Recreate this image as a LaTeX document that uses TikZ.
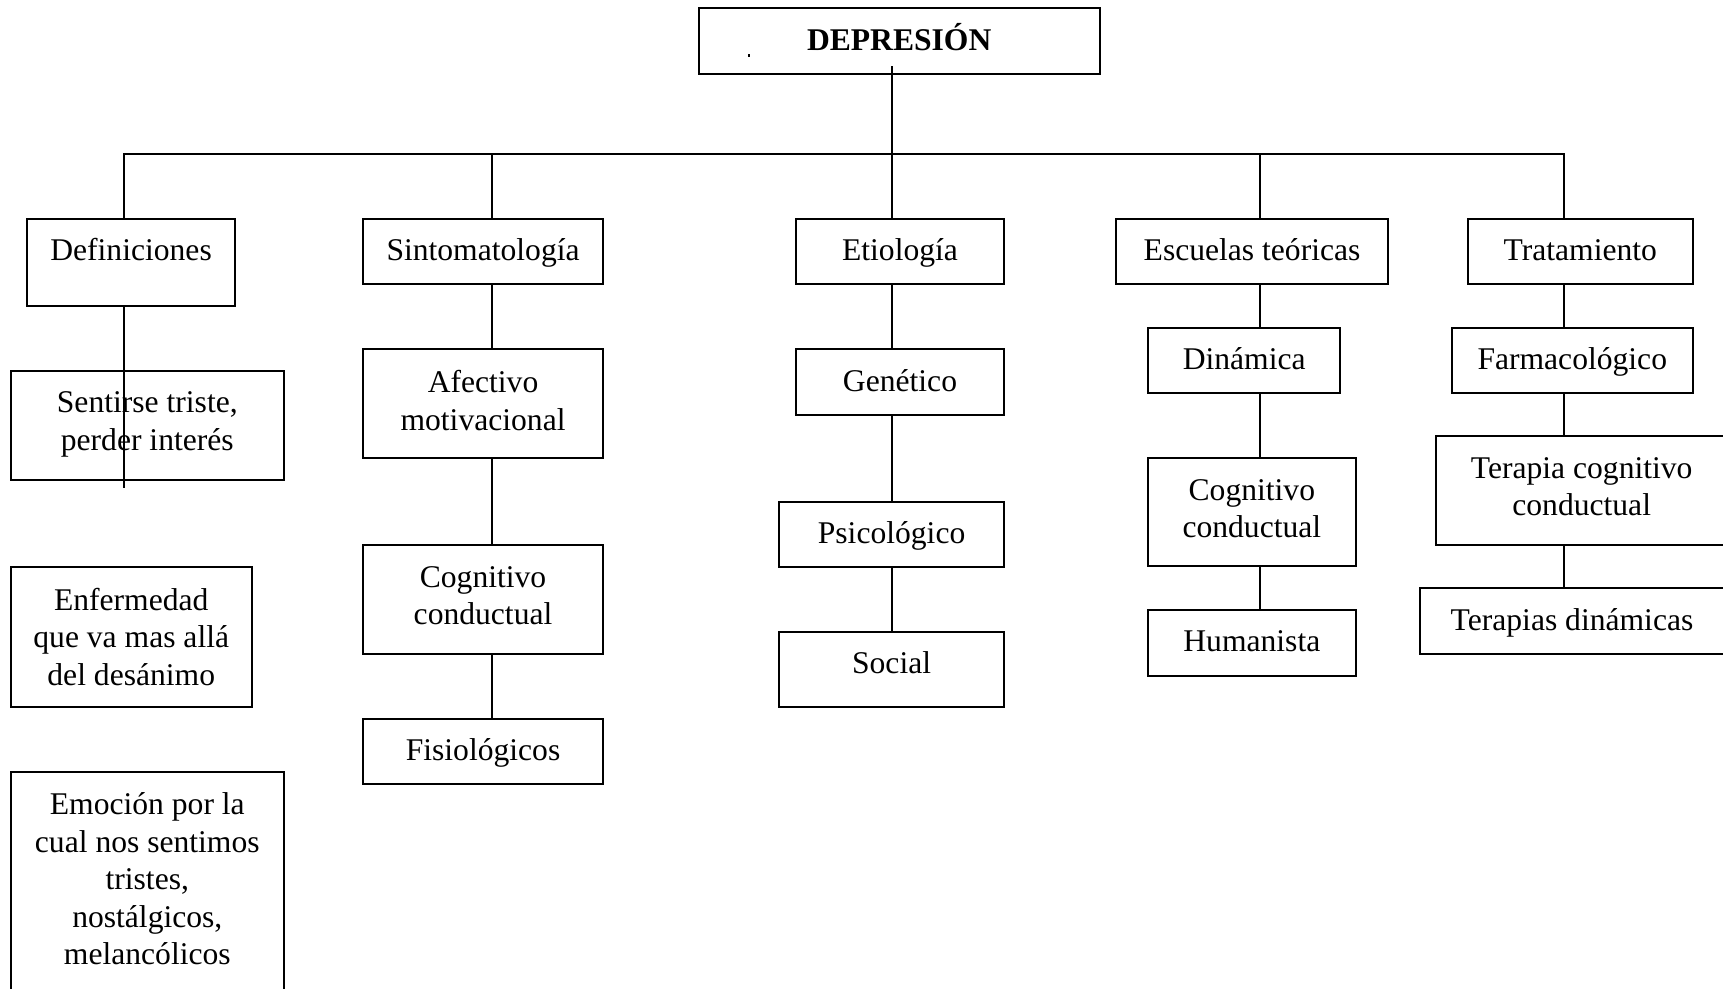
\documentclass[tikz,border=0pt]{standalone}
\usepackage{fontspec}
\setmainfont{Liberation Serif}
\usetikzlibrary{fit}
\begin{document}
\begin{tikzpicture}[x=1pt,y=-1pt,
  box/.style={draw, line width=2pt, rectangle, inner sep=0pt, outer sep=0pt},
  txt/.style={anchor=north, inner sep=0pt, align=center,
    font=\fontsize{31.6}{37.5}\selectfont, execute at begin node=\rule{0pt}{30pt}, yshift=-11.5pt},
  mtxt/.style={txt, yshift=-9.5pt},
  ln/.style={line width=2pt}]
\useasboundingbox (0,0) rectangle (1723,988);
\clip (0,0) rectangle (1723,988);
\fill[white] (0,0) rectangle (1723,988);
% boxes
\node[box, fit={(698.7,8.3) (1099.7,74)}] (dep) {};
\node[box, fit={(26.8,219) (235.3,305.7)}] (defi) {};
\node[box, fit={(362.8,219) (603.3,284)}] (sint) {};
\node[box, fit={(795.9,219) (1004.1,284)}] (etio) {};
\node[box, fit={(1115.8,219) (1388.3,284)}] (escu) {};
\node[box, fit={(1467.9,219) (1692.7,284)}] (trat) {};
\node[box, fit={(10.7,370.5) (283.9,479.7)}] (sent) {};
\node[box, fit={(10.7,566.7) (251.8,707)}] (enfe) {};
\node[box, fit={(10.7,771.7) (283.9,1000)}] (emoc) {};
\node[box, fit={(362.8,349.3) (603.3,458.3)}] (afec) {};
\node[box, fit={(362.8,545) (603.3,654)}] (cogs) {};
\node[box, fit={(362.8,719) (603.3,784)}] (fisi) {};
\node[box, fit={(795.9,349.3) (1004.1,414.7)}] (gene) {};
\node[box, fit={(779.1,501.7) (1004.1,566.7)}] (psic) {};
\node[box, fit={(779.1,632) (1004.1,707)}] (soci) {};
\node[box, fit={(1148,327.7) (1340.4,393)}] (dina) {};
\node[box, fit={(1148,458) (1355.7,566)}] (coge) {};
\node[box, fit={(1148,610) (1355.7,675.7)}] (huma) {};
\node[box, fit={(1451.8,327.7) (1692.7,393)}] (farm) {};
\node[box, fit={(1435.8,436) (1727.6,544.7)}] (terc) {};
\node[box, fit={(1419.7,588.3) (1724.3,654)}] (terd) {};
% texts
\node[txt] (dep-t) at (dep.north) {\textbf{DEPRESIÓN}};
\node[txt] (defi-t) at (defi.north) {Definiciones};
\node[txt] (sint-t) at (sint.north) {Sintomatología};
\node[txt] (etio-t) at (etio.north) {Etiología};
\node[txt] (escu-t) at (escu.north) {Escuelas teóricas};
\node[txt] (trat-t) at (trat.north) {Tratamiento};
\node[mtxt] (sent-t) at (sent.north) {Sentirse triste,\\perder interés};
\node[mtxt] (enfe-t) at (enfe.north) {Enfermedad\\que va mas allá\\del desánimo};
\node[mtxt] (emoc-t) at (emoc.north) {Emoción por la\\cual nos sentimos\\tristes,\\nostálgicos,\\melancólicos};
\node[mtxt] (afec-t) at (afec.north) {Afectivo\\motivacional};
\node[mtxt] (cogs-t) at (cogs.north) {Cognitivo\\conductual};
\node[txt] (fisi-t) at (fisi.north) {Fisiológicos};
\node[txt] (gene-t) at (gene.north) {Genético};
\node[txt] (psic-t) at (psic.north) {Psicológico};
\node[txt] (soci-t) at (soci.north) {Social};
\node[txt] (dina-t) at (dina.north) {Dinámica};
\node[mtxt] (coge-t) at (coge.north) {Cognitivo\\conductual};
\node[txt] (huma-t) at (huma.north) {Humanista};
\node[txt] (farm-t) at (farm.north) {Farmacológico};
\node[mtxt] (terc-t) at (terc.north) {Terapia cognitivo\\conductual};
\node[txt] (terd-t) at (terd.north) {Terapias dinámicas};
% tiny mark inside the title box
\fill (748,54.3) rectangle (749.6,56.5);
% connector coordinates
\coordinate (tL) at (123.5,153.5);
\coordinate (tR) at (1564,153.5);
\coordinate (xs) at (491.7,153.5);
\coordinate (xe) at (892,66);
\coordinate (xc) at (1260,153.5);
\coordinate (dend) at (123.5,488.3);
% trunk
\draw[ln] (tL |- defi.north) -- (tL) -- (tR) -- (tR |- trat.north);
\draw[ln] (xs) -- (xs |- sint.north);
\draw[ln] (xe) -- (xe |- etio.north);
\draw[ln] (xc) -- (xc |- escu.north);
% Definiciones
\draw[ln] (defi.south -| tL) -- (dend);
% Sintomatologia
\draw[ln] (sint.south -| xs) -- (afec.north -| xs);
\draw[ln] (afec.south -| xs) -- (cogs.north -| xs);
\draw[ln] (cogs.south -| xs) -- (fisi.north -| xs);
% Etiologia
\draw[ln] (etio.south -| xe) -- (gene.north -| xe);
\draw[ln] (gene.south -| xe) -- (psic.north -| xe);
\draw[ln] (psic.south -| xe) -- (soci.north -| xe);
% Escuelas
\draw[ln] (escu.south -| xc) -- (dina.north -| xc);
\draw[ln] (dina.south -| xc) -- (coge.north -| xc);
\draw[ln] (coge.south -| xc) -- (huma.north -| xc);
% Tratamiento
\draw[ln] (trat.south -| tR) -- (farm.north -| tR);
\draw[ln] (farm.south -| tR) -- (terc.north -| tR);
\draw[ln] (terc.south -| tR) -- (terd.north -| tR);
\end{tikzpicture}
\end{document}
